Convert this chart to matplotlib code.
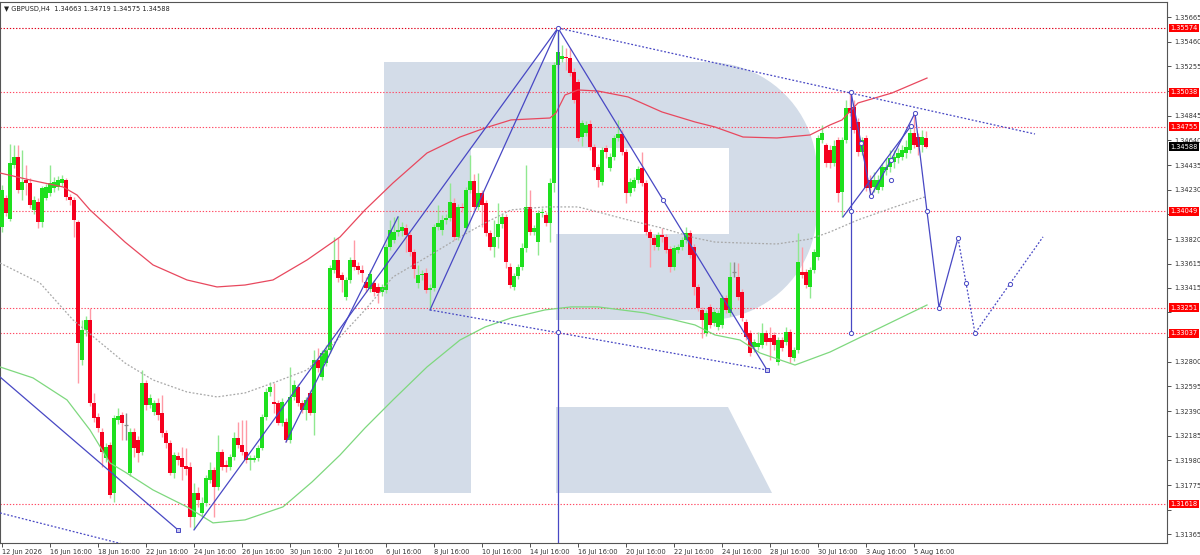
import numpy as np
import matplotlib
matplotlib.use("Agg")
import matplotlib.pyplot as plt
import matplotlib.transforms as mtransforms
from matplotlib.patches import Polygon

plt.rcParams['font.family'] = ['DejaVu Sans']

symbol = "GBPUSD,H4"

# H4 candles, first visible bar = 12 Jun 16:00
opens = [
    1.33921, 1.34162, 1.33987, 1.34435, 1.34502, 1.34228, 1.34311, 1.34286, 1.34062, 1.34128,
    1.33962, 1.34162, 1.34203, 1.34245, 1.34253, 1.34286, 1.34311, 1.34170, 1.34145, 1.33962,
    1.32815, 1.33064, 1.33148, 1.32458, 1.32342, 1.32217, 1.32001, 1.32108, 1.31710, 1.32317,
    1.32358, 1.32275, 1.31876, 1.32217, 1.32150, 1.32050, 1.32624, 1.32441, 1.32383, 1.32458,
    1.32375, 1.32208, 1.32125, 1.31876, 1.32017, 1.32001, 1.31934, 1.31926, 1.31511, 1.31710,
    1.31544, 1.31627, 1.31818, 1.31901, 1.31760, 1.32050, 1.31942, 1.31926, 1.32009, 1.32167,
    1.32108, 1.32050, 1.31984, 1.31984, 1.32001, 1.32084, 1.32342, 1.32549, 1.32466, 1.32458,
    1.32292, 1.32300, 1.32150, 1.32508, 1.32591, 1.32458, 1.32400, 1.32541, 1.32375, 1.32815,
    1.32674, 1.32790, 1.32898, 1.33563, 1.33646, 1.33521, 1.33339, 1.33480, 1.33646, 1.33596,
    1.33563, 1.33463, 1.33405, 1.33455, 1.33422, 1.33380, 1.33397, 1.33754, 1.33812, 1.33879,
    1.33887, 1.33912, 1.33854, 1.33712, 1.33455, 1.33521, 1.33538, 1.33397, 1.33414, 1.33920,
    1.33895, 1.33979, 1.33995, 1.34120, 1.33837, 1.34087, 1.33912, 1.34228, 1.34303, 1.34087,
    1.34203, 1.34120, 1.33870, 1.33754, 1.33837, 1.33945, 1.34004, 1.33588, 1.33422, 1.33513,
    1.33588, 1.33745, 1.34087, 1.33879, 1.33795, 1.34037, 1.34020, 1.33954, 1.34286, 1.35267,
    1.35316, 1.35333, 1.35325, 1.35208, 1.35125, 1.34668, 1.34701, 1.34776, 1.34585, 1.34419,
    1.34294, 1.34577, 1.34411, 1.34502, 1.34660, 1.34693, 1.34543, 1.34203, 1.34245, 1.34311,
    1.34411, 1.34286, 1.33879, 1.33829, 1.33754, 1.33854, 1.33837, 1.33737, 1.33588, 1.33729,
    1.33754, 1.33812, 1.33870, 1.33754, 1.33422, 1.33231, 1.33039, 1.33256, 1.33123, 1.33089,
    1.33106, 1.33330, 1.33206, 1.33546, 1.33505, 1.33380, 1.33131, 1.33039, 1.32923, 1.32923,
    1.32940, 1.33039, 1.32998, 1.33023, 1.32798, 1.32981, 1.32964, 1.33048, 1.32832, 1.32898,
    1.33546, 1.33546, 1.33422, 1.33563, 1.33671, 1.34643, 1.34601, 1.34560, 1.34452, 1.34643,
    1.34211, 1.34643, 1.34909, 1.34918, 1.34793, 1.34543, 1.34660, 1.34311, 1.34253, 1.34228,
    1.34253, 1.34394, 1.34419, 1.34460, 1.34494, 1.34502, 1.34535, 1.34560, 1.34701, 1.34668,
    1.34601, 1.34663,
]
highs = [
    1.34269, 1.34186, 1.34610, 1.34601, 1.34601, 1.34560, 1.34435, 1.34328, 1.34178, 1.34162,
    1.34261, 1.34278, 1.34435, 1.34336, 1.34344, 1.34352, 1.34328, 1.34195, 1.34170, 1.33979,
    1.33148, 1.33181, 1.33247, 1.32541, 1.32375, 1.32251, 1.32125, 1.32133, 1.32358, 1.32417,
    1.32383, 1.32375, 1.32251, 1.32251, 1.32183, 1.32732, 1.32649, 1.32533, 1.32483, 1.32499,
    1.32524, 1.32233, 1.32150, 1.32050, 1.32050, 1.32092, 1.32084, 1.31967, 1.31793, 1.31760,
    1.31677, 1.31859, 1.31967, 1.31926, 1.32192, 1.32075, 1.31984, 1.32034, 1.32217, 1.32300,
    1.32317, 1.32317, 1.32025, 1.32025, 1.32108, 1.32367, 1.32582, 1.32632, 1.32624, 1.32483,
    1.32499, 1.32334, 1.32757, 1.32649, 1.32616, 1.32483, 1.32508, 1.32566, 1.32898, 1.32915,
    1.32898, 1.32940, 1.33605, 1.33837, 1.33829, 1.33546, 1.33505, 1.33671, 1.33812, 1.33629,
    1.33605, 1.33505, 1.33563, 1.33480, 1.33455, 1.33447, 1.33779, 1.33979, 1.34004, 1.34012,
    1.33962, 1.33945, 1.33879, 1.33737, 1.33605, 1.33563, 1.33580, 1.33447, 1.33945, 1.34103,
    1.34020, 1.34029, 1.34286, 1.34162, 1.34112, 1.34120, 1.34253, 1.34518, 1.34361, 1.34369,
    1.34228, 1.34145, 1.33895, 1.33979, 1.34120, 1.34029, 1.34029, 1.33621, 1.33538, 1.33613,
    1.33787, 1.34435, 1.34228, 1.33937, 1.34062, 1.34079, 1.34045, 1.34328, 1.35291, 1.35574,
    1.35433, 1.35408, 1.35408, 1.35242, 1.35150, 1.34810, 1.34801, 1.34810, 1.34610, 1.34444,
    1.34585, 1.34601, 1.34535, 1.34685, 1.34810, 1.34726, 1.34568, 1.34328, 1.34336, 1.34427,
    1.34543, 1.34311, 1.33904, 1.33854, 1.33879, 1.33912, 1.33862, 1.33762, 1.33770, 1.33779,
    1.33837, 1.33920, 1.33895, 1.33779, 1.33447, 1.33256, 1.33231, 1.33281, 1.33239, 1.33231,
    1.33355, 1.33355, 1.33629, 1.33629, 1.33621, 1.33405, 1.33156, 1.33064, 1.32989, 1.33048,
    1.33122, 1.33064, 1.33089, 1.33048, 1.33006, 1.33006, 1.33089, 1.33072, 1.32923, 1.33870,
    1.33754, 1.33571, 1.33588, 1.33737, 1.34685, 1.34768, 1.34618, 1.34601, 1.34643, 1.34668,
    1.34668, 1.34976, 1.35038, 1.34976, 1.34826, 1.34668, 1.34685, 1.34352, 1.34377, 1.34352,
    1.34452, 1.34494, 1.34560, 1.34560, 1.34577, 1.34601, 1.34643, 1.34743, 1.34868, 1.34701,
    1.34726, 1.34719,
]
lows = [
    1.33878, 1.34012, 1.33971, 1.34411, 1.34203, 1.34145, 1.34186, 1.34079, 1.34029, 1.33912,
    1.33921, 1.34145, 1.34178, 1.34211, 1.34228, 1.34261, 1.34145, 1.34103, 1.33837, 1.32624,
    1.32773, 1.33014, 1.32433, 1.32300, 1.32217, 1.31926, 1.31967, 1.31669, 1.31636, 1.32284,
    1.32150, 1.32150, 1.31851, 1.32009, 1.31967, 1.32025, 1.32400, 1.32417, 1.32358, 1.32317,
    1.32175, 1.32084, 1.31859, 1.31835, 1.31942, 1.31818, 1.31859, 1.31428, 1.31410, 1.31594,
    1.31511, 1.31602, 1.31793, 1.31511, 1.31735, 1.31901, 1.31884, 1.31901, 1.31984, 1.32084,
    1.32025, 1.31959, 1.31901, 1.31967, 1.31976, 1.32067, 1.32317, 1.32516, 1.32375, 1.32275,
    1.32267, 1.32133, 1.32125, 1.32483, 1.32433, 1.32375, 1.32317, 1.32358, 1.32192, 1.32715,
    1.32649, 1.32765, 1.32873, 1.33538, 1.33463, 1.33380, 1.33314, 1.33455, 1.33563, 1.33530,
    1.33463, 1.33380, 1.33380, 1.33347, 1.33289, 1.33347, 1.33372, 1.33729, 1.33787, 1.33845,
    1.33845, 1.33712, 1.33679, 1.33496, 1.33414, 1.33480, 1.33372, 1.33239, 1.33389, 1.33895,
    1.33854, 1.33945, 1.33971, 1.33812, 1.33812, 1.34045, 1.33887, 1.34203, 1.34062, 1.34062,
    1.33921, 1.33845, 1.33729, 1.33671, 1.33745, 1.33912, 1.33580, 1.33414, 1.33397, 1.33488,
    1.33563, 1.33712, 1.33854, 1.33854, 1.33688, 1.34004, 1.33929, 1.33795, 1.34211, 1.35242,
    1.35291, 1.35225, 1.35175, 1.34951, 1.34635, 1.34593, 1.34677, 1.34560, 1.34394, 1.34253,
    1.34269, 1.34494, 1.34386, 1.34477, 1.34635, 1.34518, 1.34120, 1.34178, 1.34220, 1.34286,
    1.34261, 1.33854, 1.33588, 1.33729, 1.33729, 1.33795, 1.33704, 1.33546, 1.33563, 1.33704,
    1.33729, 1.33787, 1.33663, 1.33355, 1.33222, 1.32998, 1.33014, 1.33081, 1.33098, 1.33064,
    1.33081, 1.33206, 1.33181, 1.33505, 1.33314, 1.33139, 1.32981, 1.32848, 1.32881, 1.32898,
    1.32915, 1.32940, 1.32815, 1.32898, 1.32773, 1.32890, 1.32940, 1.32790, 1.32807, 1.32873,
    1.33496, 1.33414, 1.33330, 1.33538, 1.33646, 1.34618, 1.34419, 1.34411, 1.34427, 1.34128,
    1.34004, 1.34618, 1.34843, 1.34701, 1.34510, 1.34518, 1.34220, 1.34178, 1.34211, 1.34203,
    1.34228, 1.34352, 1.34377, 1.34411, 1.34452, 1.34477, 1.34494, 1.34535, 1.34577, 1.34518,
    1.34543, 1.34575,
]
closes = [
    1.34228, 1.34037, 1.34452, 1.34502, 1.34228, 1.34294, 1.34286, 1.34103, 1.34145, 1.33962,
    1.34245, 1.34253, 1.34286, 1.34294, 1.34311, 1.34319, 1.34170, 1.34145, 1.33979, 1.32956,
    1.33064, 1.33148, 1.32458, 1.32334, 1.32251, 1.32050, 1.32092, 1.31694, 1.32334, 1.32350,
    1.32292, 1.32275, 1.32217, 1.32084, 1.32042, 1.32624, 1.32441, 1.32499, 1.32458, 1.32358,
    1.32208, 1.32125, 1.31876, 1.32025, 1.31984, 1.31926, 1.31909, 1.31511, 1.31710, 1.31652,
    1.31627, 1.31835, 1.31901, 1.31760, 1.32050, 1.31926, 1.31926, 1.32009, 1.32167, 1.32108,
    1.32050, 1.31984, 1.32001, 1.32001, 1.32084, 1.32342, 1.32549, 1.32591, 1.32450, 1.32292,
    1.32466, 1.32150, 1.32508, 1.32607, 1.32458, 1.32400, 1.32483, 1.32375, 1.32815, 1.32749,
    1.32873, 1.32898, 1.33580, 1.33646, 1.33496, 1.33480, 1.33480, 1.33646, 1.33588, 1.33563,
    1.33538, 1.33414, 1.33530, 1.33380, 1.33372, 1.33422, 1.33754, 1.33895, 1.33879, 1.33895,
    1.33920, 1.33854, 1.33712, 1.33571, 1.33521, 1.33530, 1.33397, 1.33414, 1.33920, 1.33954,
    1.33979, 1.33995, 1.34128, 1.33837, 1.34087, 1.34079, 1.34228, 1.34303, 1.34087, 1.34203,
    1.34103, 1.33870, 1.33754, 1.33837, 1.33945, 1.34004, 1.33629, 1.33438, 1.33513, 1.33588,
    1.33745, 1.34087, 1.33879, 1.33912, 1.34037, 1.34045, 1.33954, 1.34286, 1.35267, 1.35375,
    1.35341, 1.35325, 1.35200, 1.34976, 1.34660, 1.34784, 1.34768, 1.34585, 1.34419, 1.34311,
    1.34560, 1.34543, 1.34502, 1.34660, 1.34693, 1.34543, 1.34203, 1.34294, 1.34311, 1.34402,
    1.34286, 1.33879, 1.33829, 1.33770, 1.33854, 1.33837, 1.33729, 1.33588, 1.33745, 1.33754,
    1.33812, 1.33870, 1.33687, 1.33422, 1.33247, 1.33148, 1.33206, 1.33106, 1.33214, 1.33206,
    1.33330, 1.33231, 1.33505, 1.33546, 1.33339, 1.33164, 1.33006, 1.32873, 1.32964, 1.32956,
    1.33039, 1.32964, 1.32964, 1.32940, 1.32981, 1.32915, 1.33048, 1.32840, 1.32898, 1.33629,
    1.33521, 1.33438, 1.33563, 1.33712, 1.34660, 1.34701, 1.34452, 1.34452, 1.34593, 1.34203,
    1.34643, 1.34909, 1.34868, 1.34726, 1.34543, 1.34643, 1.34245, 1.34245, 1.34311, 1.34311,
    1.34419, 1.34419, 1.34494, 1.34502, 1.34535, 1.34560, 1.34585, 1.34701, 1.34601, 1.34585,
    1.34668, 1.34588,
]

date_labels = ["12 Jun 2026", "16 Jun 16:00", "18 Jun 16:00", "22 Jun 16:00", "24 Jun 16:00",
               "26 Jun 16:00", "30 Jun 16:00", "2 Jul 16:00", "6 Jul 16:00", "8 Jul 16:00",
               "10 Jul 16:00", "14 Jul 16:00", "16 Jul 16:00", "20 Jul 16:00", "22 Jul 16:00",
               "24 Jul 16:00", "28 Jul 16:00", "30 Jul 16:00", "3 Aug 16:00", "5 Aug 16:00"]
bars_per_label = 12

price_ticks = [1.35665, 1.35460, 1.35255, 1.35050, 1.34845, 1.34640, 1.34435, 1.34230,
               1.34025, 1.33820, 1.33615, 1.33415, 1.33210, 1.33005, 1.32800, 1.32595,
               1.32390, 1.32185, 1.31980, 1.31775, 1.31570, 1.31365]
# tick labels that sit under a level box on the chart
hidden_ticks = [1.35050, 1.34025, 1.33210, 1.33005, 1.31570]

levels = [1.35574, 1.35038, 1.34755, 1.34049, 1.33251, 1.33037, 1.31618]

# moving-average / envelope lines, sampled (bar index, price)
ma_red_x = [-0.5, 7, 15.25, 18.75, 22, 30.75, 37.75, 46.25, 53.75, 60.75, 67.75, 76.25, 84.5,
            90.75, 97.75, 106.25, 114.5, 120.75, 127.25, 137, 138.5, 140.75, 144, 149, 156.5,
            165, 173.25, 178.25, 185.25, 193.75, 202, 207, 210, 214, 222.5, 231.25]
ma_red_y = [1.34369, 1.34311, 1.34253, 1.34186, 1.34062, 1.33795, 1.33605, 1.33480, 1.33422,
            1.33438, 1.33480, 1.33646, 1.33837, 1.34062, 1.34286, 1.34535, 1.34668, 1.34743,
            1.34810, 1.34826, 1.34868, 1.35017, 1.35059, 1.35050, 1.35001, 1.34876, 1.34793,
            1.34751, 1.34668, 1.34660, 1.34685, 1.34768, 1.34810, 1.34951, 1.35034, 1.35158]

ma_gray_x = [-0.5, 9.5, 17.75, 30.75, 37.75, 46.25, 53.75, 60.75, 67.75, 76.25, 84.5, 90.75,
             97.75, 106.25, 114.5, 120.75, 127.25, 135.75, 144, 149, 156.5, 165, 173.25,
             178.25, 185.25, 193.75, 202, 207, 214, 222.5, 230.75]
ma_gray_y = [1.33621, 1.33455, 1.33148, 1.32790, 1.32649, 1.32549, 1.32508, 1.32541, 1.32624,
             1.32732, 1.33006, 1.33231, 1.33505, 1.33671, 1.33837, 1.33954, 1.34062, 1.34087,
             1.34087, 1.34045, 1.33979, 1.33912, 1.33829, 1.33795, 1.33787, 1.33779, 1.33820,
             1.33879, 1.33979, 1.34079, 1.34170]

ma_green_x = [-0.5, 7.75, 16.25, 22, 27, 30.75, 37.75, 46.25, 52.75, 60.75, 70.25, 77.5, 84.5,
              90.75, 97.75, 106.25, 114.5, 120.75, 127.25, 135.75, 142.25, 149, 160.75, 173.25,
              178.25, 184.5, 189.5, 198.25, 207, 231.25]
ma_green_y = [1.32757, 1.32666, 1.32483, 1.32233, 1.31959, 1.31884, 1.31735, 1.31594, 1.31461,
              1.31486, 1.31594, 1.31801, 1.32025, 1.32250, 1.32483, 1.32757, 1.32981, 1.33089,
              1.33164, 1.33231, 1.33256, 1.33256, 1.33206, 1.33106, 1.33023, 1.32981, 1.32873,
              1.32773, 1.32881, 1.33272]

# wave markup (bar index, price)
wave_segments = [
    ([-0.5, 44], [1.32674, 1.31403]),
    ([48, 139], [1.31403, 1.35574]),
    ([71, 99], [1.32133, 1.34004]),
    ([107, 139], [1.33231, 1.35574]),
    ([139, 191.25], [1.35574, 1.32732]),
    ([210.25, 227.25], [1.34004, 1.34760]),
]
forecast_x = [212.25, 214.75, 217.25, 222.25, 228.25, 231.25, 234.25, 239]
forecast_y = [1.35038, 1.34618, 1.34178, 1.34477, 1.34868, 1.34049, 1.33251, 1.33829]
forecast_dot_x = [239, 243.25, 260.25]
forecast_dot_y = [1.33829, 1.33037, 1.33838]
triangle_dotted = [
    ([139, 258.25], [1.35574, 1.34693]),
    ([107, 191.25], [1.33231, 1.32732]),
    ([-0.5, 40], [1.31544, 1.31202]),
]
vertical_marks = [(139, 1.31, 1.35574), (212.25, 1.33037, 1.35038)]
circle_x = [139, 139, 165.25, 212.25, 212.25, 212.25, 214.75, 217.25, 222.25, 222.25, 227.25,
            228.25, 231.25, 234.25, 239, 241, 243.25, 252]
circle_y = [1.35574, 1.33047, 1.34145, 1.35038, 1.34049, 1.33037, 1.34618, 1.34178, 1.34477,
            1.34311, 1.34760, 1.34868, 1.34049, 1.33251, 1.33829, 1.33455, 1.33037, 1.33447]
square_x = [44, 191.25]
square_y = [1.31403, 1.32732]

# ---------------------------------------------------------------- figure
W, H = 1200, 555
fig = plt.figure(figsize=(W / 100, H / 100), dpi=100)
ax = fig.add_axes([0, (H - 543) / H, 1167 / W, 541 / H])
ax.set_xlim(-0.5, 291.25)
ax.set_ylim(1.31294, 1.35790)
for s in ax.spines.values():
    s.set_color('#555555')
    s.set_linewidth(0.8)

# watermark "R" (pixel layout of the chart area)
def pxa(x, y):
    return (x / 1167, (543 - y) / 541)

logo_col = '#d3dce8'
r = 110
arc1 = [(707 + r * np.cos(t), 172 - r * np.sin(t)) for t in np.linspace(np.pi / 2, 0, 24)]
arc2 = [(707 + r * np.cos(t), 210 - r * np.sin(t)) for t in np.linspace(0, -np.pi / 2, 24)]
bowl = [(471, 62)] + arc1 + arc2 + [(556, 320), (556, 234), (729, 234), (729, 148), (471, 148)]
stem = [(384, 62), (471, 62), (471, 493), (384, 493)]
leg = [(556, 407), (728, 407), (772, 493), (556, 493)]
for shape in (stem, bowl, leg):
    ax.add_patch(Polygon([pxa(*p) for p in shape], closed=True, transform=ax.transAxes,
                         facecolor=logo_col, edgecolor='none', zorder=0))

# horizontal levels
for k, lv in enumerate(levels):
    ax.axhline(lv, color='#e0001a' if k == 0 else '#ff4a64', lw=0.8, ls=(0, (1.2, 1.6)), zorder=1)

# candles
o = np.array(opens); h = np.array(highs); l = np.array(lows); c = np.array(closes)
x = np.arange(len(c))
up = c > o
dn = c < o
eq = c == o
ax.vlines(x[up], l[up], h[up], color='#90e890', lw=1.0, zorder=3)
ax.vlines(x[dn], l[dn], h[dn], color='#ff9aa6', lw=1.0, zorder=3)
ax.vlines(x[eq], l[eq], h[eq], color='#8c8c8c', lw=1.0, zorder=3)
min_body = 0.00007
ax.bar(x[up], np.maximum(c[up] - o[up], min_body), bottom=o[up], width=0.78,
       color='#1ee01e', linewidth=0, zorder=4)
ax.bar(x[dn], np.maximum(o[dn] - c[dn], min_body), bottom=c[dn], width=0.78,
       color='#f5001e', linewidth=0, zorder=4)
ax.hlines(o[eq], x[eq] - 0.4, x[eq] + 0.4, color='#8c8c8c', lw=0.9, zorder=4)

# indicator lines
ax.plot(ma_red_x, ma_red_y, color='#e8485e', lw=0.9, zorder=5)
ax.plot(ma_gray_x, ma_gray_y, color='#a8a8a8', lw=0.9, ls=(0, (1.5, 1.5)), zorder=5)
ax.plot(ma_green_x, ma_green_y, color='#7ed87e', lw=0.9, zorder=5)

# wave markup
blue = '#4848c4'
for xs, ys in wave_segments:
    ax.plot(xs, ys, color=blue, lw=0.9, zorder=6)
for xs, ys in triangle_dotted:
    ax.plot(xs, ys, color=blue, lw=0.9, ls=(0, (1.5, 1.5)), zorder=6)
for vx, y0, y1 in vertical_marks:
    ax.vlines(vx, y0, y1, color=blue, lw=0.9, zorder=6)
ax.plot(forecast_x, forecast_y, color=blue, lw=0.9, zorder=6)
ax.plot(forecast_dot_x, forecast_dot_y, color=blue, lw=0.9, ls=(0, (1.5, 1.5)), zorder=6)
ax.plot(circle_x, circle_y, 'o', ms=3, mfc='white', mec=blue, mew=0.7, zorder=7)
ax.plot(square_x, square_y, 's', ms=3, mfc='#c8c8f0', mec=blue, mew=0.7, zorder=7)

# axes / ticks
ax.yaxis.tick_right()
ax.set_yticks(price_ticks)
ax.set_yticklabels(["" if v in hidden_ticks else f"{v:.5f}" for v in price_ticks])
ax.tick_params(axis='y', direction='out', length=3, width=0.6, pad=2,
               labelsize=4.8, colors='#333333')
ax.set_xticks(np.arange(len(date_labels)) * bars_per_label)
ax.set_xticklabels(date_labels)
ax.tick_params(axis='x', direction='out', length=3, width=0.6, pad=1.5,
               labelsize=4.8, colors='#333333')
for t in ax.get_xticklabels():
    t.set_ha('left')

trans = mtransforms.blended_transform_factory(ax.transAxes, ax.transData)
for lv in levels:
    ax.text(1.0028, lv, f"{lv:.5f}", transform=trans, fontsize=4.8, color='white',
            va='center', ha='left', clip_on=False, zorder=10,
            bbox=dict(boxstyle='square,pad=0.2', fc='#ff0000', ec='none'))
ax.text(1.0028, closes[-1], f"{closes[-1]:.5f}", transform=trans, fontsize=4.8, color='white',
        va='center', ha='left', clip_on=False, zorder=11,
        bbox=dict(boxstyle='square,pad=0.2', fc='#000000', ec='none'))

header = f"\u25BC {symbol}  {opens[-1]:.5f} {highs[-1]:.5f} {lows[-1]:.5f} {closes[-1]:.5f}"
ax.text(0.003, 0.992, header, transform=ax.transAxes, fontsize=4.8, color='#222222',
        va='top', ha='left', zorder=12)

fig.savefig("out.png", dpi=100)
